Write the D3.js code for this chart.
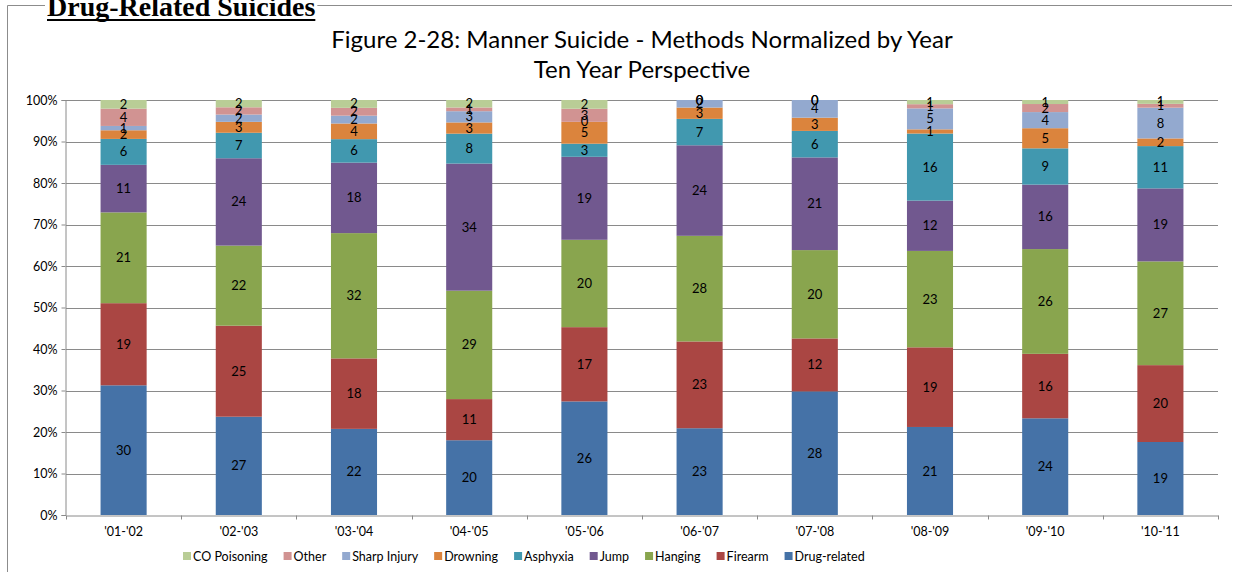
<!DOCTYPE html>
<html>
<head>
<meta charset="utf-8">
<script src="https://cdn.jsdelivr.net/npm/d3@7"></script>
<style>
  body { margin: 0; background: #fff; }
  svg { display: block; }
</style>
</head>
<body>
<script>
// data (counts per method, normalized per year)
var years = ["'01-'02", "'02-'03", "'03-'04", "'04-'05", "'05-'06", "'06-'07", "'07-'08", "'08-'09", "'09-'10", "'10-'11"];
var methods = ["Drug-related", "Firearm", "Hanging", "Jump", "Asphyxia", "Drowning", "Sharp Injury", "Other", "CO Poisoning"];
var drugRelated = [30, 27, 22, 20, 26, 23, 28, 21, 24, 19];
var firearm     = [19, 25, 18, 11, 17, 23, 12, 19, 16, 20];
var hanging     = [21, 22, 32, 29, 20, 28, 20, 23, 26, 27];
var jump        = [11, 24, 18, 34, 19, 24, 21, 12, 16, 19];
var asphyxia    = [6, 7, 6, 8, 3, 7, 6, 16, 9, 11];
var drowning    = [2, 3, 4, 3, 5, 3, 3, 1, 5, 2];
var sharpInjury = [1, 2, 2, 3, 0, 2, 4, 5, 4, 8];
var other       = [4, 2, 2, 1, 3, 0, 0, 1, 2, 1];
var coPoisoning = [2, 2, 2, 2, 2, 0, 0, 1, 1, 1];
var yTicks = [0, 0.1, 0.2, 0.3, 0.4, 0.5, 0.6, 0.7, 0.8, 0.9, 1];

var colors = ["#4572A7", "#AA4643", "#89A54E", "#71588F", "#4198AF", "#DB843D", "#93A9CF", "#D19392", "#B9CD96"];
var series = [drugRelated, firearm, hanging, jump, asphyxia, drowning, sharpInjury, other, coPoisoning];

var rows = years.map(function (y, i) {
  var r = { year: y };
  methods.forEach(function (m, j) { r[m] = series[j][i]; });
  return r;
});

var W = 1235, H = 572;
var margin = { left: 66, right: 17, top: 100, bottom: 57 };
var font = "Lato, 'Open Sans', sans-serif";

var svg = d3.select("body").append("svg").attr("width", W).attr("height", H);

// outer frame of the document page
svg.append("path").attr("d", "M7.5," + H + "V5.5H1232")
  .attr("fill", "none").attr("stroke", "#8c8c8c").attr("stroke-width", 1);

// page heading (cut at the top)
var head = svg.append("text").attr("x", 47).attr("y", 16)
  .style("font-family", "'Liberation Serif', 'Times New Roman', serif")
  .style("font-weight", "bold").style("font-size", "28px")
  .text("Drug-Related Suicides");
var hw = head.node().getComputedTextLength();
svg.insert("rect", "text").attr("x", 45).attr("y", 0).attr("width", hw + 4).attr("height", 21).attr("fill", "#fff");
svg.append("line").attr("x1", 47).attr("x2", 47 + hw).attr("y1", 20).attr("y2", 20)
  .attr("stroke", "#000").attr("stroke-width", 2);

var x = d3.scaleBand().domain(years).range([margin.left, W - margin.right]).paddingInner(0.6).paddingOuter(0.3);
var xb = d3.scaleBand().domain(years).range([margin.left, W - margin.right]);
var y = d3.scaleLinear().domain([0, 1]).range([H - margin.bottom, margin.top]);

// chart title
var title = svg.append("text").attr("text-anchor", "middle").style("font-family", font).attr("fill", "#000");
title.append("tspan").attr("x", (margin.left + W - margin.right) / 2).attr("y", 48).style("font-size", "24px")
  .text("Figure 2-28: Manner Suicide - Methods Normalized by Year");
title.append("tspan").attr("x", (margin.left + W - margin.right) / 2).attr("y", 78).style("font-size", "24px")
  .text("Ten Year Perspective");

// gridlines
svg.append("g").selectAll("line").data(yTicks.slice(1)).enter().append("line")
  .attr("x1", margin.left).attr("x2", W - margin.right)
  .attr("y1", function (d) { return Math.round(y(d)) + 0.5; })
  .attr("y2", function (d) { return Math.round(y(d)) + 0.5; })
  .attr("stroke", "#8a8a8a").attr("stroke-width", 1);

var stack = d3.stack().keys(methods).offset(d3.stackOffsetExpand);
var stacked = stack(rows);

var layer = svg.append("g").selectAll("g").data(stacked).enter().append("g")
  .attr("fill", function (d, i) { return colors[i]; });
layer.selectAll("rect").data(function (d) { return d; }).enter().append("rect")
  .attr("x", function (d) { return x(d.data.year); })
  .attr("width", x.bandwidth())
  .attr("y", function (d) { return y(d[1]); })
  .attr("height", function (d) { return y(d[0]) - y(d[1]); });

// value labels
var lab = svg.append("g").style("font-family", font).style("font-size", "13px").attr("text-anchor", "middle");
stacked.forEach(function (s) {
  lab.selectAll(null).data(s).enter().append("text")
    .attr("x", function (d) { return x(d.data.year) + x.bandwidth() / 2; })
    .attr("y", function (d) { return y((d[0] + d[1]) / 2); })
    .attr("dy", "0.35em").attr("fill", "#000")
    .text(function (d) { return d.data[s.key]; });
});

// y axis
var yAxis = svg.append("g").attr("transform", "translate(" + (margin.left - 0.5) + ",0)")
  .call(d3.axisLeft(y).tickValues(yTicks).tickFormat(d3.format(".0%")).tickSize(4).tickPadding(4));
yAxis.select(".domain").attr("stroke", "#8a8a8a");
yAxis.selectAll(".tick line").attr("stroke", "#8a8a8a");
yAxis.selectAll("text").style("font-family", font).style("font-size", "12.5px").attr("fill", "#000");

// x axis
var xAxis = svg.append("g").attr("transform", "translate(0," + (Math.round(y(0)) + 0.5) + ")")
  .call(d3.axisBottom(xb).tickSize(0).tickPadding(12));
xAxis.select(".domain").attr("stroke", "#8a8a8a");
xAxis.selectAll("text").style("font-family", font).style("font-size", "12.5px").attr("fill", "#000");
xAxis.selectAll(".sep").data(years.concat(["end"])).enter().append("line").attr("class", "sep")
  .attr("x1", function (d, i) { return Math.round(margin.left + i * xb.step()) + 0.5; })
  .attr("x2", function (d, i) { return Math.round(margin.left + i * xb.step()) + 0.5; })
  .attr("y1", 0).attr("y2", 4).attr("stroke", "#8a8a8a");

// legend (reverse order)
var legend = svg.append("g").style("font-family", font).style("font-size", "12.5px");
var lx = 183, ly = 557;
methods.slice().reverse().forEach(function (m) {
  var i = methods.indexOf(m);
  legend.append("rect").attr("x", lx).attr("y", ly - 5).attr("width", 8).attr("height", 8).attr("fill", colors[i]);
  var t = legend.append("text").attr("x", lx + 10).attr("y", ly).attr("dy", "0.35em").attr("fill", "#000").text(m);
  lx += 10 + t.node().getComputedTextLength() + 16;
});
</script>
</body>
</html>
